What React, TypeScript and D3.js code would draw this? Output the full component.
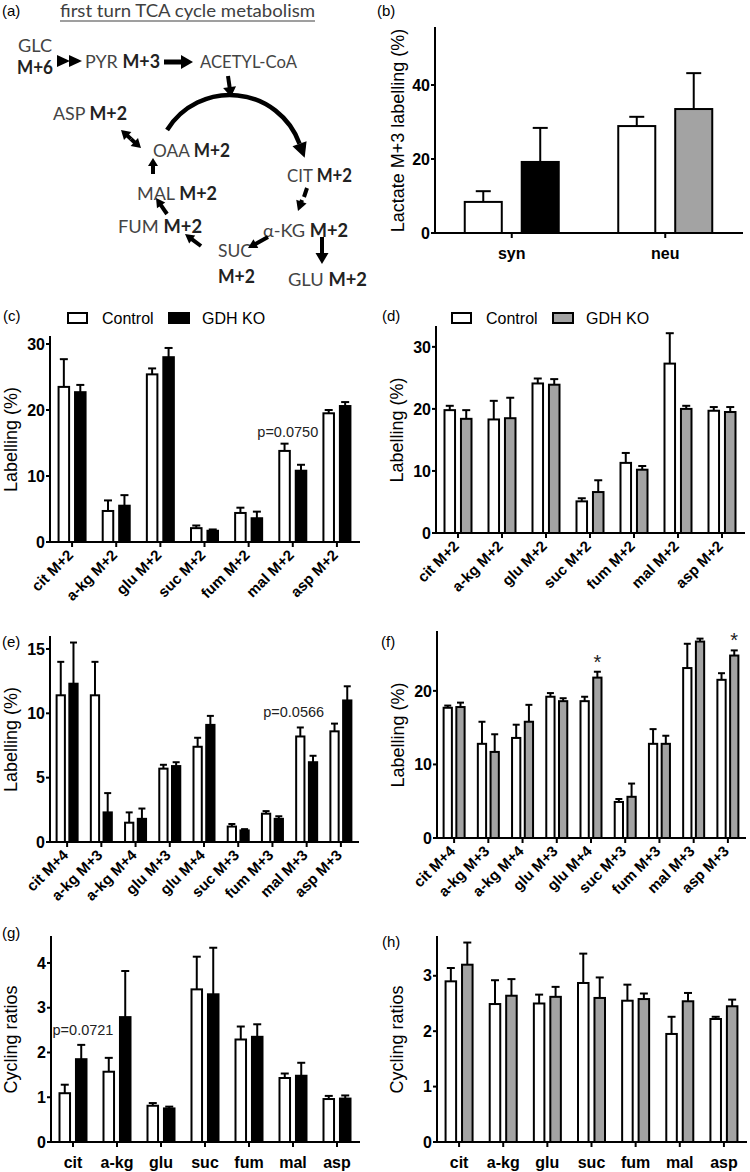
import React from 'react';
import * as d3 from 'd3';

const FONT = '"Liberation Sans", Arial, Helvetica, sans-serif';
const DIA_FONT = 'Lato, "Open Sans", sans-serif';
const GRAY = '#a3a3a3';

// ---------- Panel (b): lactate M+3 labelling ----------
const B_CATS = ['syn', 'neu'];
const B_CTRL = [8.4, 28.9];
const B_CTRL_ERR = [2.9, 2.5];
const B_KO = [19.2, 33.5];
const B_KO_ERR = [9.2, 9.7];
const B_TICKS = [0, 20, 40];

// ---------- Panels (c),(d): M+2 ----------
const CATS_M2 = ['cit M+2', 'a-kg M+2', 'glu M+2', 'suc M+2', 'fum M+2', 'mal M+2', 'asp M+2'];
const C_CTRL = [23.5, 4.7, 25.4, 2.1, 4.4, 13.8, 19.5];
const C_CTRL_ERR = [4.2, 1.6, 0.9, 0.4, 0.8, 1.1, 0.5];
const C_KO = [22.7, 5.5, 28.0, 1.7, 3.6, 10.8, 20.6];
const C_KO_ERR = [1.1, 1.6, 1.4, 0.2, 1.0, 0.9, 0.6];
const D_CTRL = [19.8, 18.3, 24.1, 5.1, 11.3, 27.3, 19.7];
const D_CTRL_ERR = [0.7, 3.0, 0.8, 0.5, 1.6, 4.9, 0.6];
const D_KO = [18.4, 18.5, 23.9, 6.6, 10.2, 20.0, 19.5];
const D_KO_ERR = [1.4, 3.3, 0.9, 1.9, 0.6, 0.5, 0.8];
const CD_TICKS = [0, 10, 20, 30];

// ---------- Panels (e),(f): second turn ----------
const CATS_E = ['cit M+4', 'a-kg M+3', 'a-kg M+4', 'glu M+3', 'glu M+4', 'suc M+3', 'fum M+3', 'mal M+3', 'asp M+3'];
const E_CTRL = [11.4, 11.4, 1.5, 5.7, 7.4, 1.2, 2.2, 8.2, 8.6];
const E_CTRL_ERR = [2.6, 2.6, 0.8, 0.3, 0.7, 0.2, 0.2, 0.7, 0.6];
const E_KO = [12.3, 2.3, 1.8, 5.9, 9.1, 0.9, 1.8, 6.2, 11.0];
const E_KO_ERR = [3.2, 1.5, 0.8, 0.3, 0.7, 0.1, 0.2, 0.5, 1.1];
const E_TICKS = [0, 5, 10, 15];
const F_CTRL = [17.7, 12.8, 13.6, 19.2, 18.6, 4.9, 12.8, 23.1, 21.5];
const F_CTRL_ERR = [0.3, 3.0, 1.8, 0.5, 0.6, 0.4, 2.0, 3.3, 0.9];
const F_KO = [17.8, 11.7, 15.8, 18.6, 21.8, 5.6, 12.8, 26.7, 24.8];
const F_KO_ERR = [0.6, 2.4, 2.3, 0.4, 0.8, 1.8, 1.1, 0.4, 0.7];
const F_SIG = ['', '', '', '', '*', '', '', '', '*'];
const F_TICKS = [0, 10, 20];

// ---------- Panels (g),(h): cycling ratios ----------
const CATS_CYC = ['cit', 'a-kg', 'glu', 'suc', 'fum', 'mal', 'asp'];
const G_CTRL = [1.09, 1.57, 0.81, 3.41, 2.29, 1.43, 0.96];
const G_CTRL_ERR = [0.19, 0.31, 0.06, 0.73, 0.29, 0.10, 0.07];
const G_KO = [1.85, 2.79, 0.75, 3.30, 2.35, 1.48, 0.97];
const G_KO_ERR = [0.32, 1.03, 0.04, 1.04, 0.28, 0.29, 0.07];
const G_TICKS = [0, 1, 2, 3, 4];
const H_CTRL = [2.90, 2.49, 2.50, 2.87, 2.55, 1.95, 2.22];
const H_CTRL_ERR = [0.24, 0.43, 0.16, 0.53, 0.29, 0.31, 0.04];
const H_KO = [3.20, 2.64, 2.62, 2.60, 2.58, 2.54, 2.45];
const H_KO_ERR = [0.40, 0.30, 0.18, 0.37, 0.10, 0.15, 0.12];
const H_TICKS = [0, 1, 2, 3];

const SERIES = ['Control', 'GDH KO'];

// ---------- Diagram (a) ----------
const TITLE_A = 'first turn TCA cycle metabolism';
const NODE_NAMES = ['GLC', '', 'PYR', 'ACETYL-CoA', 'ASP', 'OAA', 'CIT', 'MAL', 'α-KG', 'FUM', 'SUC', '', 'GLU'];
const NODE_MASS = ['', 'M+6', 'M+3', '', 'M+2', 'M+2', 'M+2', 'M+2', 'M+2', 'M+2', '', 'M+2', 'M+2'];

type Scales = {
  x: d3.ScalePoint<string>;
  y: d3.ScaleLinear<number, number>;
  inner: d3.ScaleBand<string>;
};

type PanelProps = {
  left: number; right: number; top: number; bottom: number;
  yMax: number; ticks: number[];
  cats: string[];
  ctrl: number[]; ctrlErr: number[]; ko: number[]; koErr: number[];
  koFill: string[];
  groupW: number; pad: number; capW: number;
  rotate: boolean;
  ylabel: string; ylabelOff: number;
  catFont?: number;
  annotate?: (s: Scales) => React.ReactNode;
};

function BarPanel(p: PanelProps) {
  const x = d3.scalePoint<string>().domain(p.cats).range([p.left, p.right]).padding(0.5);
  const y = d3.scaleLinear().domain([0, p.yMax]).range([p.bottom, p.top]);
  const inner = d3.scaleBand<string>().domain(['ctrl', 'ko']).range([-p.groupW / 2, p.groupW / 2]).paddingInner(p.pad);
  const bw = inner.bandwidth();
  const bars: React.ReactNode[] = [];
  p.cats.forEach((c, i) => {
    const cx = x(c) as number;
    const items = [
      { k: 'ctrl', v: p.ctrl[i], e: p.ctrlErr[i], fill: '#fff' },
      { k: 'ko', v: p.ko[i], e: p.koErr[i], fill: p.koFill[i % p.koFill.length] },
    ];
    items.forEach((it) => {
      const bx = cx + (inner(it.k) as number);
      const mid = bx + bw / 2;
      const yt = y(it.v);
      const ye = y(it.v + it.e);
      bars.push(
        <g key={c + it.k}>
          <line x1={mid} x2={mid} y1={yt} y2={ye} stroke="#000" strokeWidth={2} />
          <line x1={mid - p.capW / 2} x2={mid + p.capW / 2} y1={ye} y2={ye} stroke="#000" strokeWidth={2} />
          <rect x={bx} y={yt} width={bw} height={p.bottom - yt} fill={it.fill} stroke="#000" strokeWidth={2} />
        </g>
      );
    });
  });
  const catFont = p.catFont ?? 16;
  return (
    <g fontFamily={FONT}>
      {bars}
      <line x1={p.left} x2={p.left} y1={p.bottom} y2={p.top} stroke="#000" strokeWidth={2} strokeLinecap="square" />
      <line x1={p.left} x2={p.right} y1={p.bottom} y2={p.bottom} stroke="#000" strokeWidth={2} strokeLinecap="square" />
      {p.ticks.map((t) => (
        <g key={'yt' + t}>
          <line x1={p.left - 4} x2={p.left} y1={y(t)} y2={y(t)} stroke="#000" strokeWidth={2} />
          <text x={p.left - 5} y={y(t) + 5.7} textAnchor="end" fontSize={16} fontWeight="bold">{t}</text>
        </g>
      ))}
      {p.cats.map((c) => (
        <g key={'xt' + c}>
          <line x1={x(c)} x2={x(c)} y1={p.bottom} y2={p.bottom + 5} stroke="#000" strokeWidth={2} />
          {p.rotate ? (
            <text transform={`translate(${(x(c) as number) + 2},${p.bottom + 14}) rotate(-45)`} textAnchor="end" fontSize={15} fontWeight="bold">{c}</text>
          ) : (
            <text x={x(c)} y={p.bottom + 26} textAnchor="middle" fontSize={catFont} fontWeight="bold">{c}</text>
          )}
        </g>
      ))}
      <text transform={`translate(${p.left - p.ylabelOff},${(p.top + p.bottom) / 2}) rotate(-90)`} textAnchor="middle" fontSize={18}>{p.ylabel}</text>
      {p.annotate ? p.annotate({ x, y, inner }) : null}
    </g>
  );
}

function Arrow({ x1, y1, x2, y2, len = 10, w = 11, lw = 4 }: { x1: number; y1: number; x2: number; y2: number; len?: number; w?: number; lw?: number }) {
  const dx = x2 - x1, dy = y2 - y1;
  const d = Math.hypot(dx, dy) || 1;
  const ux = dx / d, uy = dy / d;
  const bx = x2 - ux * len, by = y2 - uy * len;
  const px = -uy * w / 2, py = ux * w / 2;
  const showLine = d > len + 0.5;
  return (
    <g>
      {showLine && <line x1={x1} y1={y1} x2={bx + ux} y2={by + uy} stroke="#000" strokeWidth={lw} />}
      <polygon points={`${x2},${y2} ${bx + px},${by + py} ${bx - px},${by - py}`} fill="#000" />
    </g>
  );
}

function Legend({ x0, y0, koFill }: { x0: number; y0: number; koFill: string }) {
  return (
    <g fontFamily={FONT} fontSize={16}>
      <rect x={x0} y={y0 - 5} width={19} height={10} fill="#fff" stroke="#000" strokeWidth={2} />
      <text x={x0 + 34} y={y0 + 6}>{SERIES[0]}</text>
      <rect x={x0 + 101} y={y0 - 5} width={20} height={10} fill={koFill} stroke="#000" strokeWidth={2} />
      <text x={x0 + 134} y={y0 + 6}>{SERIES[1]}</text>
    </g>
  );
}

function DiagramA() {
  // node layout: [left, baseline, width]
  const pos: [number, number, number][] = [
    [18, 52, 34], [17, 74, 36], [85, 68, 75], [200, 68, 97], [53, 120, 74], [153, 157, 77],
    [287, 182, 65], [137, 200, 80], [263, 237, 85], [118, 233, 84], [218, 257, 34], [218, 283, 37], [288, 286, 79],
  ];
  const cx = 230, cy = 169, r = 74;
  const a0 = Math.atan2(130 - cy, 167 - cx);
  const a1 = -20 * Math.PI / 180;
  const arc = d3.path();
  arc.arc(cx, cy, r, a0, a1);
  const ex = cx + r * Math.cos(a1), ey = cy + r * Math.sin(a1);
  const tx = -Math.sin(a1), ty = Math.cos(a1);
  return (
    <g>
      <text x={60} y={17} fontFamily={DIA_FONT} fontSize={17} fill="#404040" textLength={255} lengthAdjust="spacingAndGlyphs">{TITLE_A}</text>
      <line x1={60} x2={315} y1={21} y2={21} stroke="#404040" strokeWidth={1.2} />
      {NODE_NAMES.map((n, i) => {
        const [lx, ly, w] = pos[i];
        const m = NODE_MASS[i];
        return (
          <text key={'n' + i} x={lx} y={ly} fontFamily={DIA_FONT} fontSize={18} fill="#444" textLength={w} lengthAdjust="spacingAndGlyphs">
            {n}
            {n && m ? ' ' : ''}
            {m ? <tspan fontWeight="bold" fill="#222">{m}</tspan> : null}
          </text>
        );
      })}
      <Arrow x1={57} y1={61} x2={70} y2={61} len={13} w={12} />
      <Arrow x1={69} y1={61} x2={82} y2={61} len={13} w={12} />
      <Arrow x1={164} y1={62} x2={193} y2={62} len={12} w={14} lw={5} />
      <Arrow x1={228} y1={76} x2={231} y2={97} len={10} w={13} lw={4} />
      <path d={arc.toString()} fill="none" stroke="#000" strokeWidth={4.5} />
      <Arrow x1={ex} y1={ey} x2={ex + tx * 15} y2={ey + ty * 15} len={15} w={15} />
      <Arrow x1={131} y1={139} x2={121} y2={130} len={9} w={11} lw={4} />
      <Arrow x1={131} y1={139} x2={141} y2={148} len={9} w={11} lw={4} />
      <Arrow x1={153} y1={174} x2={153} y2={158} len={8} w={10} lw={4} />
      <Arrow x1={167} y1={214} x2={156} y2={198} len={9} w={10} lw={4} />
      <Arrow x1={201} y1={246} x2={185} y2={234} len={9} w={10} lw={4} />
      <Arrow x1={268} y1={237} x2={248} y2={248} len={9} w={10} lw={4} />
      <Arrow x1={322} y1={237} x2={322} y2={264} len={11} w={13} lw={4} />
      <line x1={307} y1={188} x2={304} y2={197} stroke="#000" strokeWidth={4} />
      <Arrow x1={302} y1={200} x2={298} y2={211} len={10} w={11} />
    </g>
  );
}

export default function App() {
  const plab = (t: string, x: number, y: number) => (
    <text x={x} y={y} fontFamily={FONT} fontSize={15}>{t}</text>
  );
  return (
    <svg width={750} height={1172} style={{ position: 'absolute', left: 0, top: 0, background: '#fff' }}>
      <rect width={750} height={1172} fill="#fff" />
      {plab('(a)', 2, 16)}
      {plab('(b)', 377, 16)}
      {plab('(c)', 3, 321)}
      {plab('(d)', 382, 321)}
      {plab('(e)', 2, 647)}
      {plab('(f)', 381, 647)}
      {plab('(g)', 2, 938)}
      {plab('(h)', 382, 947)}

      <DiagramA />

      <BarPanel left={435} right={742} top={28} bottom={233} yMax={55.4} ticks={B_TICKS}
        cats={B_CATS} ctrl={B_CTRL} ctrlErr={B_CTRL_ERR} ko={B_KO} koErr={B_KO_ERR}
        koFill={['#000', GRAY]} groupW={94} pad={0.35} capW={15} rotate={false}
        ylabel="Lactate M+3 labelling (%)" ylabelOff={31} />

      <Legend x0={68} y0={318} koFill="#000" />
      <BarPanel left={50} right={359} top={337} bottom={542} yMax={31.06} ticks={CD_TICKS}
        cats={CATS_M2} ctrl={C_CTRL} ctrlErr={C_CTRL_ERR} ko={C_KO} koErr={C_KO_ERR}
        koFill={['#000']} groupW={27} pad={0.36} capW={8} rotate={true}
        ylabel="Labelling (%)" ylabelOff={33}
        annotate={({ x, y }) => (
          <text x={(x('mal M+2') as number) - 5} y={y(C_CTRL[5] + C_CTRL_ERR[5]) - 7} textAnchor="middle" fontSize={14.5} fill="#222">p=0.0750</text>
        )} />

      <Legend x0={452} y0={318} koFill={GRAY} />
      <BarPanel left={436} right={744} top={327} bottom={533} yMax={33.2} ticks={CD_TICKS}
        cats={CATS_M2} ctrl={D_CTRL} ctrlErr={D_CTRL_ERR} ko={D_KO} koErr={D_KO_ERR}
        koFill={[GRAY]} groupW={27} pad={0.36} capW={8} rotate={true}
        ylabel="Labelling (%)" ylabelOff={33} />

      <BarPanel left={50} right={358} top={637} bottom={842} yMax={15.93} ticks={E_TICKS}
        cats={CATS_E} ctrl={E_CTRL} ctrlErr={E_CTRL_ERR} ko={E_KO} koErr={E_KO_ERR}
        koFill={['#000']} groupW={21} pad={0.35} capW={7} rotate={true}
        ylabel="Labelling (%)" ylabelOff={33}
        annotate={({ x, y }) => (
          <text x={(x('mal M+3') as number) - 13} y={y(E_CTRL[7] + E_CTRL_ERR[7]) - 10} textAnchor="middle" fontSize={14.5} fill="#222">p=0.0566</text>
        )} />

      <BarPanel left={437} right={745} top={632} bottom={838} yMax={28.0} ticks={F_TICKS}
        cats={CATS_E} ctrl={F_CTRL} ctrlErr={F_CTRL_ERR} ko={F_KO} koErr={F_KO_ERR}
        koFill={[GRAY]} groupW={21} pad={0.35} capW={7} rotate={true}
        ylabel="Labelling (%)" ylabelOff={33}
        annotate={({ x, y, inner }) => (
          <g>
            {CATS_E.map((c, i) => F_SIG[i] ? (
              <text key={'s' + c} x={(x(c) as number) + (inner('ko') as number) + inner.bandwidth() / 2}
                y={y(F_KO[i] + F_KO_ERR[i]) - 3} textAnchor="middle" fontSize={20} fill="#222">{F_SIG[i]}</text>
            ) : null)}
          </g>
        )} />

      <BarPanel left={51} right={359} top={937} bottom={1142} yMax={4.58} ticks={G_TICKS}
        cats={CATS_CYC} ctrl={G_CTRL} ctrlErr={G_CTRL_ERR} ko={G_KO} koErr={G_KO_ERR}
        koFill={['#000']} groupW={27} pad={0.36} capW={8} rotate={false}
        ylabel="Cycling ratios" ylabelOff={34}
        annotate={({ x, y }) => (
          <text x={(x('cit') as number) + 10} y={y(G_KO[0] + G_KO_ERR[0]) - 10} textAnchor="middle" fontSize={14.5} fill="#222">p=0.0721</text>
        )} />

      <BarPanel left={437} right={746} top={937} bottom={1142} yMax={3.70} ticks={H_TICKS}
        cats={CATS_CYC} ctrl={H_CTRL} ctrlErr={H_CTRL_ERR} ko={H_KO} koErr={H_KO_ERR}
        koFill={[GRAY]} groupW={27} pad={0.36} capW={8} rotate={false}
        ylabel="Cycling ratios" ylabelOff={34} />
    </svg>
  );
}
